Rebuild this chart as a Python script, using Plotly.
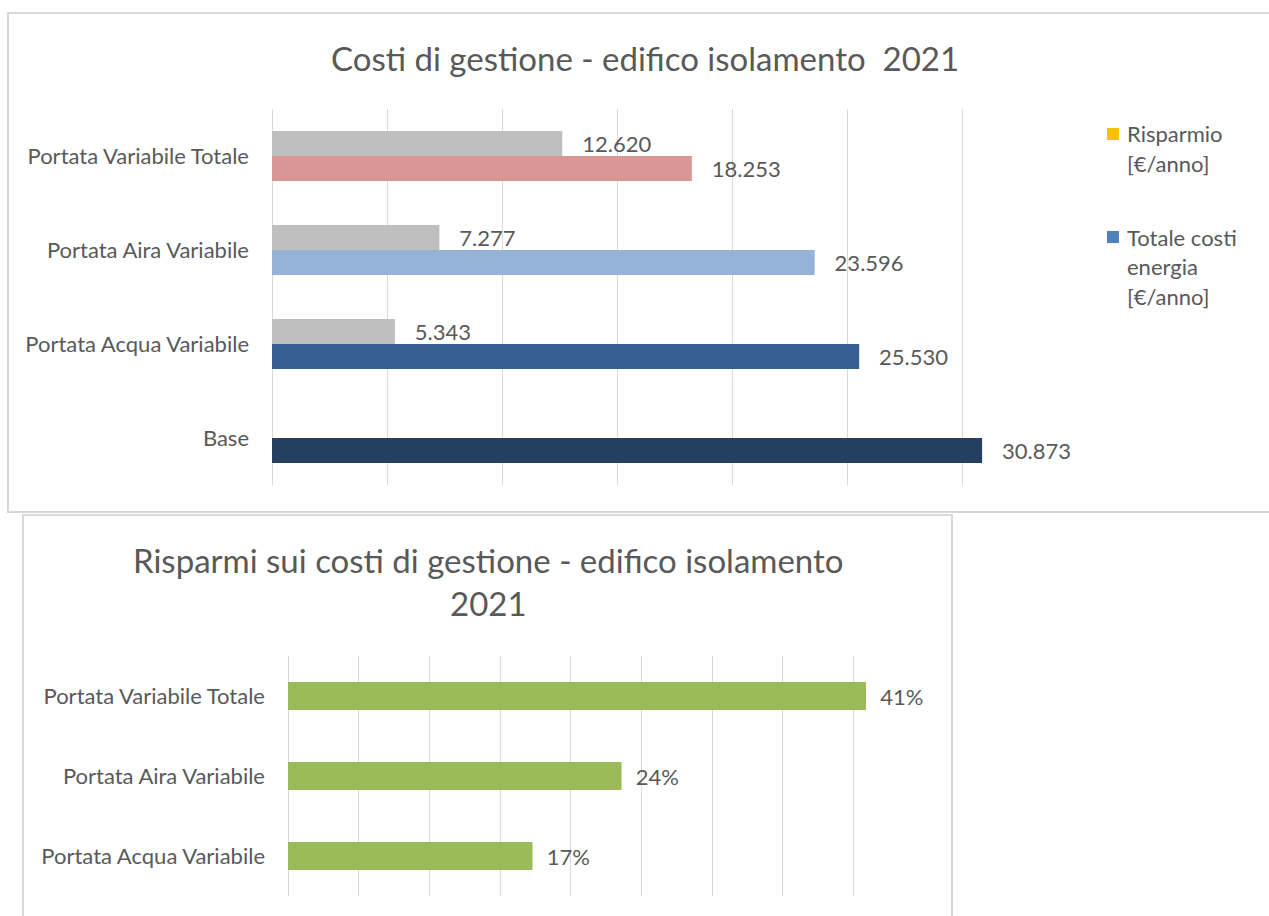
import plotly.graph_objects as go

# ---- data -------------------------------------------------------------
categories_top = ["Base", "Portata Acqua Variabile", "Portata Aira Variabile",
                  "Portata Variabile Totale"]
costi_energia = [30873, 25530, 23596, 18253]          # Totale costi energia [€/anno]
risparmio = [None, 5343, 7277, 12620]                 # Risparmio [€/anno]

categories_bottom = ["Portata Acqua Variabile", "Portata Aira Variabile",
                     "Portata Variabile Totale"]
risparmio_pct = [0.173, 0.236, 0.409]

# ---- styling ----------------------------------------------------------
W, H = 1269, 916
FONT = "Lato"
TXT = "#595959"
GRID = "#D9D9D9"
costi_colors = ["#243F60", "#376092", "#95B3D7", "#D99694"]
grey = "#BFBFBF"
green = "#9BBB59"
NB = "\u00a0"


def px_x(x):
    return x / W


def px_y(y):
    return 1 - y / H


fig = go.Figure()

BAR_W = 0.266
label_font = dict(family=FONT, size=22, color=TXT)

fig.add_trace(go.Bar(
    y=categories_top, x=costi_energia, orientation="h",
    name="Totale costi energia [€/anno]",
    marker=dict(color=costi_colors, line=dict(width=0)),
    width=BAR_W, offset=-BAR_W,
    texttemplate=NB * 3 + "%{x:,.0f}", textposition="outside",
    constraintext="none", cliponaxis=False, textfont=label_font,
    xaxis="x", yaxis="y", showlegend=False, hoverinfo="skip",
))
fig.add_trace(go.Bar(
    y=categories_top, x=risparmio, orientation="h",
    name="Risparmio [€/anno]",
    marker=dict(color=grey, line=dict(width=0)),
    width=BAR_W, offset=0,
    texttemplate=NB * 3 + "%{x:,.0f}", textposition="outside",
    constraintext="none", cliponaxis=False, textfont=label_font,
    xaxis="x", yaxis="y", showlegend=False, hoverinfo="skip",
))
fig.add_trace(go.Bar(
    y=categories_bottom, x=risparmio_pct, orientation="h",
    marker=dict(color=green, line=dict(width=0)),
    width=0.35, offset=-0.175,
    texttemplate=NB * 2 + "%{x:.0%}", textposition="outside",
    constraintext="none", cliponaxis=False, textfont=label_font,
    xaxis="x2", yaxis="y2", showlegend=False, hoverinfo="skip",
))

axis_common = dict(showgrid=True, gridcolor=GRID, gridwidth=1,
                   zeroline=True, zerolinecolor=GRID, zerolinewidth=1,
                   showticklabels=False, ticks="", showline=False, fixedrange=True)
yaxis_common = dict(type="category", showgrid=False, zeroline=False, ticks="",
                    showline=False, ticklabelstandoff=22,
                    tickfont=dict(family=FONT, size=22, color=TXT), fixedrange=True)

fig.update_layout(
    width=W, height=H,
    margin=dict(l=0, r=0, t=0, b=0),
    paper_bgcolor="white", plot_bgcolor="white",
    separators=",.",
    barmode="overlay",
    xaxis=dict(domain=[px_x(272), px_x(1077)], range=[0, 35000], dtick=5000,
               anchor="y", **axis_common),
    yaxis=dict(domain=[px_y(485), px_y(109)], range=[-0.5, 3.5],
               categoryorder="array", categoryarray=categories_top,
               anchor="x", **yaxis_common),
    xaxis2=dict(domain=[px_x(288), px_x(924)], range=[0, 0.45], dtick=0.05,
                anchor="y2", **axis_common),
    yaxis2=dict(domain=[px_y(896), px_y(656)], range=[-0.5, 2.5],
                categoryorder="array", categoryarray=categories_bottom,
                anchor="x2", **yaxis_common),
)

shapes = [
    # chart frames
    dict(type="rect", xref="paper", yref="paper",
         x0=px_x(8), x1=px_x(1290), y0=px_y(512), y1=px_y(13),
         line=dict(color=GRID, width=2), fillcolor="rgba(0,0,0,0)", layer="below"),
    dict(type="rect", xref="paper", yref="paper",
         x0=px_x(23), x1=px_x(952), y0=px_y(940), y1=px_y(515),
         line=dict(color=GRID, width=2), fillcolor="rgba(0,0,0,0)", layer="below"),
]

title_font = dict(family=FONT, size=33, color=TXT)
annotations = [
    dict(text="Costi di gestione - edifico isolamento" + NB * 2 + "2021",
         x=px_x(645), y=px_y(58), xref="paper", yref="paper",
         xanchor="center", yanchor="middle", showarrow=False, font=title_font),
    dict(text="Risparmi sui costi di gestione - edifico isolamento",
         x=px_x(488), y=px_y(560), xref="paper", yref="paper",
         xanchor="center", yanchor="middle", showarrow=False, font=title_font),
    dict(text="2021",
         x=px_x(488), y=px_y(603), xref="paper", yref="paper",
         xanchor="center", yanchor="middle", showarrow=False, font=title_font),
]

# legend
legend_items = [
    ("#FFC000", ["Risparmio", "[€/anno]"], 134),
    ("#4F81BD", ["Totale costi", "energia", "[€/anno]"], 237),
]
for color, lines, ytop in legend_items:
    shapes.append(dict(type="rect", xref="paper", yref="paper",
                       x0=px_x(1107), x1=px_x(1119),
                       y0=px_y(ytop + 6), y1=px_y(ytop - 6),
                       line=dict(width=0), fillcolor=color))
    for i, line in enumerate(lines):
        annotations.append(dict(text=line, x=px_x(1125), y=px_y(ytop + i * 29.5),
                                xref="paper", yref="paper", xanchor="left",
                                yanchor="middle", showarrow=False,
                                font=dict(family=FONT, size=22, color=TXT)))

fig.update_layout(shapes=shapes, annotations=annotations)

fig.write_html("out.html")
